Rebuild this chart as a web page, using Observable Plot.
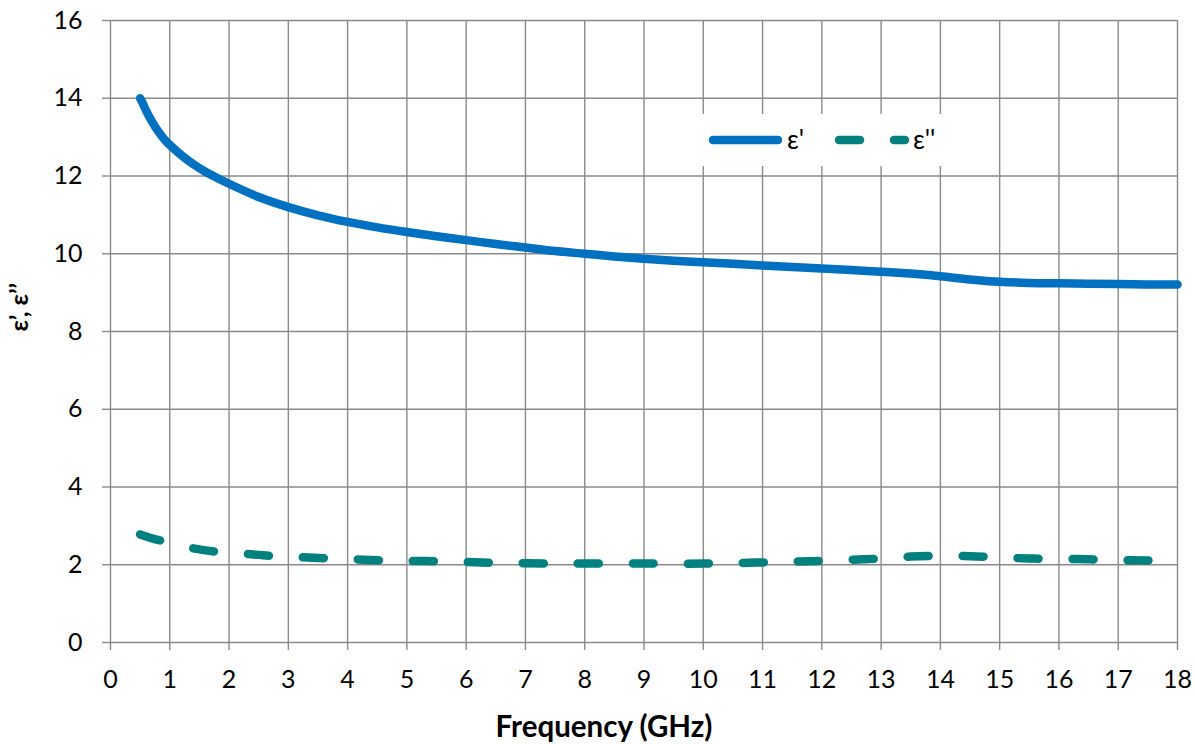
<!DOCTYPE html>
<html>
<head>
<meta charset="utf-8">
<script src="https://cdn.jsdelivr.net/npm/d3@7"></script>
<script src="https://cdn.jsdelivr.net/npm/@observablehq/plot@0.6"></script>
<style>
  html, body { margin: 0; padding: 0; background: #fff; }
  #wrap { position: relative; width: 1195px; height: 744px; font-family: Lato, "Open Sans", sans-serif; }
  #legend { position: absolute; left: 696px; top: 114px; width: 262px; height: 52px; background: #fff; }
  #legend svg { position: absolute; left: 0; top: 0; }
</style>
</head>
<body>
<div id="wrap"></div>
<script>
// ---- data ----
const seriesNames = ["ε'", "ε''"];
const freq1 = [0.5,0.55,0.6,0.7,0.8,0.9,1,1.2,1.4,1.6,1.8,2,2.5,3,3.5,4,4.5,5,5.5,6,6.5,7,7.5,8,8.5,9,9.5,10,10.5,11,11.5,12,12.5,13,13.5,14,14.5,15,15.5,16,16.5,17,17.5,18];
const eps1 = [14.0,13.85,13.68,13.4,13.16,12.96,12.8,12.53,12.3,12.11,11.95,11.8,11.46,11.2,10.99,10.82,10.68,10.56,10.45,10.35,10.25,10.16,10.07,10.0,9.93,9.87,9.82,9.78,9.74,9.7,9.66,9.62,9.58,9.54,9.49,9.42,9.34,9.28,9.25,9.24,9.23,9.22,9.21,9.21];
const freq2 = [0.5,0.7,0.9,1.3,1.7,2.2,2.7,3.1,3.6,4.1,4.6,5,5.5,6,6.5,7,7.5,8,9,10,10.5,11,11.5,12,12.5,13,13.5,14,14.5,15,15.5,16,16.5,17,17.5,18];
const eps2 = [2.78,2.68,2.6,2.45,2.35,2.29,2.23,2.2,2.17,2.14,2.11,2.1,2.09,2.07,2.05,2.04,2.03,2.03,2.03,2.03,2.04,2.06,2.08,2.1,2.13,2.16,2.21,2.23,2.22,2.19,2.16,2.15,2.14,2.12,2.11,2.1];
const xTicks = d3.range(0, 19, 1);
const yTicks = d3.range(0, 17, 2);
const xLabel = "Frequency (GHz)";
const yLabel = "ε’, ε’’";

const colors = ["#0070C0", "#00807E"];
const gridColor = "#8a8a8a";

const data1 = freq1.map((f, i) => ({f, v: eps1[i]}));
const data2 = freq2.map((f, i) => ({f, v: eps2[i]}));

const chart = Plot.plot({
  width: 1195,
  height: 744,
  marginLeft: 110,
  marginRight: 18,
  marginTop: 20,
  marginBottom: 102,
  style: {fontFamily: "Lato, 'Open Sans', sans-serif", fontSize: "25px", color: "#000", background: "#fff"},
  x: {domain: [0, 18]},
  y: {domain: [0, 16]},
  marks: [
    Plot.gridX(xTicks, {stroke: gridColor, strokeOpacity: 1, strokeWidth: 1.4}),
    Plot.gridY(yTicks, {stroke: gridColor, strokeOpacity: 1, strokeWidth: 1.4}),
    Plot.axisX(xTicks, {tickSize: 8, tickPadding: 20, stroke: gridColor, strokeWidth: 1.4, fill: "#000", label: null, tickFormat: d => String(d), fontSize: 25}),
    Plot.axisY(yTicks, {tickSize: 8, tickPadding: 20, stroke: gridColor, strokeWidth: 1.4, fill: "#000", label: null, tickFormat: d => String(d), fontSize: 25}),
    Plot.line(data2, {x: "f", y: "v", stroke: colors[1], strokeWidth: 8.5, strokeLinecap: "round", strokeDasharray: "21,34", curve: "catmull-rom"}),
    Plot.line(data1, {x: "f", y: "v", stroke: colors[0], strokeWidth: 8.5, strokeLinecap: "round", curve: "catmull-rom"}),
    Plot.text([xLabel], {frameAnchor: "bottom", dx: -40, dy: 94, text: d => d, fontSize: 29.5, fontWeight: "bold", fill: "#000"}),
    Plot.text([yLabel], {frameAnchor: "left", dx: -91, rotate: -90, text: d => d, fontSize: 25, fontWeight: "bold", fill: "#000"})
  ]
});
document.getElementById("wrap").appendChild(chart);

// legend overlay
const leg = document.createElement("div");
leg.id = "legend";
leg.innerHTML = `
<svg width="262" height="52" xmlns="http://www.w3.org/2000/svg">
  <line x1="17" y1="26" x2="82" y2="26" stroke="${colors[0]}" stroke-width="8.5" stroke-linecap="round"/>
  <text x="91" y="35" font-size="26" font-family="Lato, 'Open Sans', sans-serif" fill="#000">${seriesNames[0]}</text>
  <line x1="143" y1="26" x2="209" y2="26" stroke="${colors[1]}" stroke-width="8.5" stroke-linecap="round" stroke-dasharray="21,34"/>
  <text x="217" y="35" font-size="26" font-family="Lato, 'Open Sans', sans-serif" fill="#000">${seriesNames[1]}</text>
</svg>`;
document.getElementById("wrap").appendChild(leg);
</script>
</body>
</html>
